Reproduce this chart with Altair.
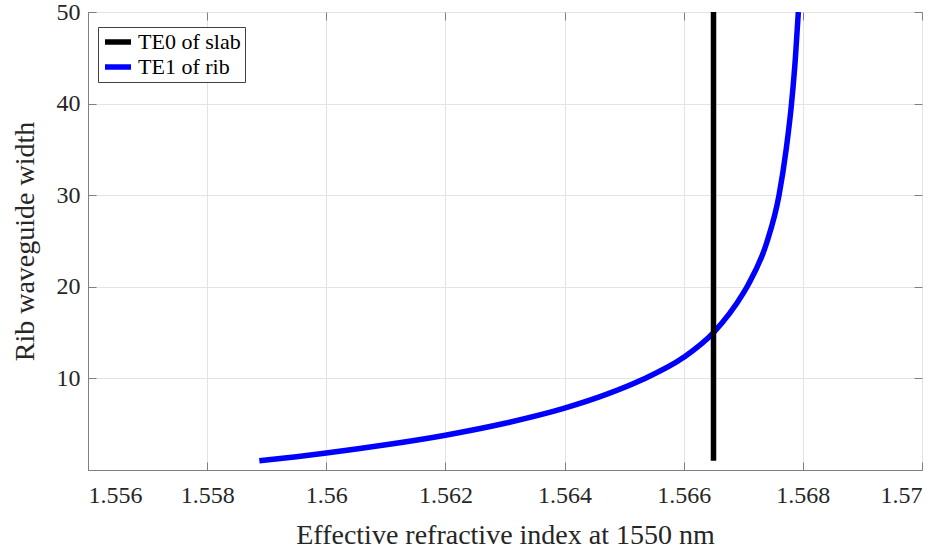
import altair as alt
import pandas as pd

# TE1 mode of the rib waveguide: waveguide width against effective index
rib_neff = [1.558876, 1.5595, 1.5600, 1.5610, 1.5620, 1.5630, 1.5640, 1.5647, 1.5653,
            1.5660, 1.5665, 1.5670, 1.56708, 1.56739, 1.56760, 1.56772, 1.56781,
            1.567875, 1.567924]
rib_width = [1.0, 1.45, 1.85, 2.75, 3.8, 5.1, 6.75, 8.25, 9.85,
             12.3, 15.0, 19.3, 20.2, 24.75, 30.0, 35.0, 40.0,
             45.0, 50.0]

# TE0 mode of the slab: a single effective index over all widths
slab_neff = [1.5665, 1.5665]
slab_width = [1.0, 50.0]

series_names = ["TE0 of slab", "TE1 of rib"]
series_colors = ["#000000", "#0000ff"]

x_ticks = [1.556, 1.558, 1.56, 1.562, 1.564, 1.566, 1.568, 1.57]
y_ticks = [10, 20, 30, 40, 50]
x_range = [1.556, 1.57]
y_range = [0, 50]

rib = pd.DataFrame({"neff": rib_neff, "width": rib_width, "mode": series_names[1]})
slab = pd.DataFrame({"neff": slab_neff, "width": slab_width, "mode": series_names[0]})

FONT = "Liberation Serif"
TEXT = "#262626"
W, H = 834, 458

xs = alt.Scale(domain=x_range, nice=False, zero=False)
ys = alt.Scale(domain=y_range, nice=False, zero=False)

legend = alt.Legend(
    title=None, orient="none", legendX=10, legendY=15, direction="vertical",
    symbolType="stroke", symbolSize=676, symbolStrokeWidth=5.5,
    labelFont=FONT, labelFontSize=22, labelColor="#000000", labelOffset=4,
    padding=4, rowPadding=3, clipHeight=22,
    fillColor="#ffffff", strokeColor="#404040", cornerRadius=0,
)
color = alt.Color("mode:N", scale=alt.Scale(domain=series_names, range=series_colors),
                  legend=legend)

# main axes: labels, grid and axis lines
x_main = alt.Axis(values=x_ticks, format="~g", grid=True, ticks=False, domain=True,
                  labelFont=FONT, labelPadding=13,
                  title="Effective refractive index at 1550 nm",
                  titleBaseline="alphabetic", titleY=73)
y_main = alt.Axis(values=y_ticks, grid=True, ticks=False, domain=True,
                  labelFont=FONT, labelPadding=8, title="Rib waveguide width",
                  titleBaseline="alphabetic", titleX=-55, titleY=H / 2)

# inward tick marks on all four sides
def tick_axis(values, orient):
    return alt.Axis(values=values, orient=orient, offset=-8, tickSize=8, ticks=True,
                    labels=False, domain=False, grid=False, title=None)

rib_layer = alt.Chart(rib).mark_line(interpolate="monotone", strokeWidth=5.5, clip=True).encode(
    x=alt.X("neff:Q", scale=xs, axis=x_main),
    y=alt.Y("width:Q", scale=ys, axis=y_main),
    color=color,
)

slab_layer = alt.Chart(slab).mark_line(strokeWidth=5.5, clip=True).encode(
    x=alt.X("neff:Q", scale=xs, axis=tick_axis(x_ticks, "bottom")),
    y=alt.Y("width:Q", scale=ys, axis=tick_axis(y_ticks, "left")),
    color=color,
)

frame_layer = alt.Chart(rib).mark_point(opacity=0).encode(
    x=alt.X("neff:Q", scale=xs, axis=tick_axis(x_ticks, "top")),
    y=alt.Y("width:Q", scale=ys, axis=tick_axis(y_ticks, "right")),
)

chart = (
    alt.layer(rib_layer, slab_layer, frame_layer)
    .resolve_axis(x="independent", y="independent")
    .properties(
        width=W, height=H,
        autosize=alt.AutoSizeParams(type="none"),
        padding={"left": 88, "top": 12, "right": 27, "bottom": 81},
        background="#ffffff",
    )
    .configure(font=FONT)
    .configure_view(stroke="#808080", strokeWidth=1)
    .configure_axis(
        labelFont=FONT, labelFontSize=24, labelColor=TEXT,
        titleFont=FONT, titleFontSize=28, titleFontWeight="normal", titleColor=TEXT,
        domainColor="#808080", domainWidth=1, tickColor="#808080", tickWidth=1,
        gridColor="#e3e3e3", gridWidth=1,
    )
    .configure_legend(labelFont=FONT)
)

chart.save("out.html", embed_options={"renderer": "svg", "actions": False})
